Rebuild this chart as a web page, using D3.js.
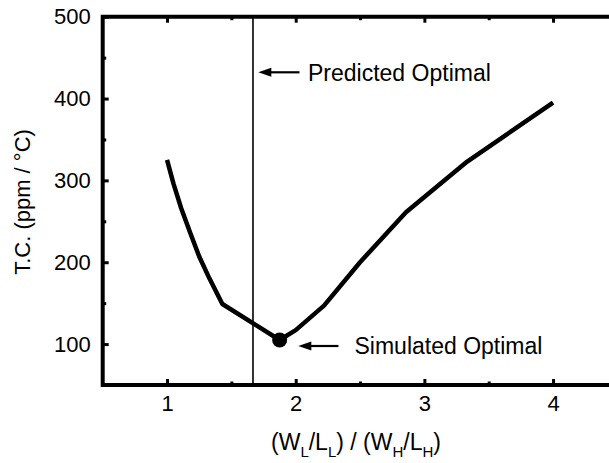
<!DOCTYPE html>
<html>
<head>
<meta charset="utf-8">
<script src="https://cdn.jsdelivr.net/npm/d3@7"></script>
<style>
  html, body { margin: 0; padding: 0; background: #fff; }
  svg { display: block; font-family: "Liberation Sans", Arial, Helvetica, sans-serif; }
</style>
</head>
<body>
<svg id="chart" width="609" height="463"></svg>
<script>
// ---- data ----
const ratioX = [1, 1.05, 1.11, 1.18, 1.25, 1.33, 1.43, 1.875, 2, 2.22, 2.5, 2.857, 3.333, 4];
const tcValues = [325, 296, 266, 236, 207, 180, 149, 105, 117, 147, 200, 261, 323, 395];
const optimalSim = { x: 1.875, y: 105 };
const predictedX = 1.668;
const xMajorTicks = [1, 2, 3, 4];
const xMinorTicks = [1.5, 2.5, 3.5];
const yMajorTicks = [100, 200, 300, 400, 500];
const yMinorTicks = [150, 250, 350, 450];
const yLabel = "T.C. (ppm / °C)";
const predictedLabel = "Predicted Optimal";
const simulatedLabel = "Simulated Optimal";

// ---- layout ----
const svg = d3.select("#chart");
const mLeft = 102.7, mTop = 16.7, mBottom = 385, unit = 128.67;
const x = d3.scaleLinear().domain([0.5, 4.5]).range([mLeft, mLeft + 4 * unit]);
const y = d3.scaleLinear().domain([50, 500]).range([mBottom, mTop]);

const fs = 22;

function styleAxis(g) {
  g.select(".domain").remove();
  g.selectAll(".tick line").attr("stroke", "#000").attr("stroke-width", 3);
  g.selectAll(".tick text").attr("fill", "#000").attr("font-size", fs).attr("font-family", "Liberation Sans, Arial, sans-serif");
}

svg.append("g").attr("transform", `translate(0,${mBottom})`)
  .call(d3.axisBottom(x).tickValues(xMajorTicks).tickSizeInner(-6).tickSizeOuter(0).tickPadding(10).tickFormat(d3.format("d")))
  .call(styleAxis);
svg.append("g").attr("transform", `translate(0,${mBottom})`)
  .call(d3.axisBottom(x).tickValues(xMinorTicks).tickSizeInner(-3.5).tickSizeOuter(0).tickFormat(""))
  .call(styleAxis);
svg.append("g").attr("transform", `translate(0,${mTop})`)
  .call(d3.axisTop(x).tickValues(xMajorTicks).tickSizeInner(-6).tickSizeOuter(0).tickFormat(""))
  .call(styleAxis);
svg.append("g").attr("transform", `translate(0,${mTop})`)
  .call(d3.axisTop(x).tickValues(xMinorTicks).tickSizeInner(-3.5).tickSizeOuter(0).tickFormat(""))
  .call(styleAxis);
svg.append("g").attr("transform", `translate(${mLeft},0)`)
  .call(d3.axisLeft(y).tickValues(yMajorTicks).tickSizeInner(-6).tickSizeOuter(0).tickPadding(12).tickFormat(d3.format("d")))
  .call(styleAxis);
svg.append("g").attr("transform", `translate(${mLeft},0)`)
  .call(d3.axisLeft(y).tickValues(yMinorTicks).tickSizeInner(-3.5).tickSizeOuter(0).tickFormat(""))
  .call(styleAxis);

// frame
const xr = x.range();
svg.append("path")
  .attr("d", `M${xr[1]},${mTop}H${mLeft}V${mBottom}H${xr[1]}`)
  .attr("fill", "none").attr("stroke", "#000").attr("stroke-width", 4)
  .attr("stroke-linejoin", "miter");

// predicted optimal vertical line
svg.append("line")
  .attr("x1", x(predictedX)).attr("x2", x(predictedX))
  .attr("y1", mTop).attr("y2", mBottom)
  .attr("stroke", "#000").attr("stroke-width", 1.6);

// curve
const data = ratioX.map((d, i) => ({ x: d, y: tcValues[i] }));
svg.append("path").datum(data)
  .attr("fill", "none").attr("stroke", "#000").attr("stroke-width", 4.5)
  .attr("stroke-linejoin", "round").attr("stroke-linecap", "butt")
  .attr("d", d3.line().x(d => x(d.x)).y(d => y(d.y)));

svg.append("circle")
  .attr("cx", x(optimalSim.x)).attr("cy", y(optimalSim.y)).attr("r", 7.5).attr("fill", "#000");

// arrows
function arrow(x1, x2, yy) {
  svg.append("line").attr("x1", x1 + 10).attr("x2", x2).attr("y1", yy).attr("y2", yy)
    .attr("stroke", "#000").attr("stroke-width", 2.2);
  svg.append("path")
    .attr("d", `M${x1},${yy}L${x1 + 13},${yy - 4.5}L${x1 + 13},${yy + 4.5}Z`)
    .attr("fill", "#000");
}
arrow(258.3, 299.5, 72.3);
arrow(298.3, 338.5, 346);

svg.append("text").attr("x", 308).attr("y", 80.5)
  .attr("font-size", 23).attr("fill", "#000").text(predictedLabel);
svg.append("text").attr("x", 354.5).attr("y", 354)
  .attr("font-size", 23).attr("fill", "#000").text(simulatedLabel);

// y axis title
svg.append("text")
  .attr("transform", `translate(30,202) rotate(-90)`)
  .attr("text-anchor", "middle").attr("font-size", 22).attr("fill", "#000")
  .text(yLabel);

// x axis title with subscripts
const xt = svg.append("text").attr("x", 356).attr("y", 450)
  .attr("text-anchor", "middle").attr("font-size", 23).attr("fill", "#000");
const parts = [["(W", 0], ["L", 1], ["/L", 0], ["L", 1], [") / (W", 0], ["H", 1], ["/L", 0], ["H", 1], [")", 0]];
parts.forEach(([t, sub], i) => {
  const ts = xt.append("tspan").text(t);
  if (sub) ts.attr("font-size", 15).attr("dy", 7);
  else if (i > 0) ts.attr("dy", -7);
});
</script>
</body>
</html>
